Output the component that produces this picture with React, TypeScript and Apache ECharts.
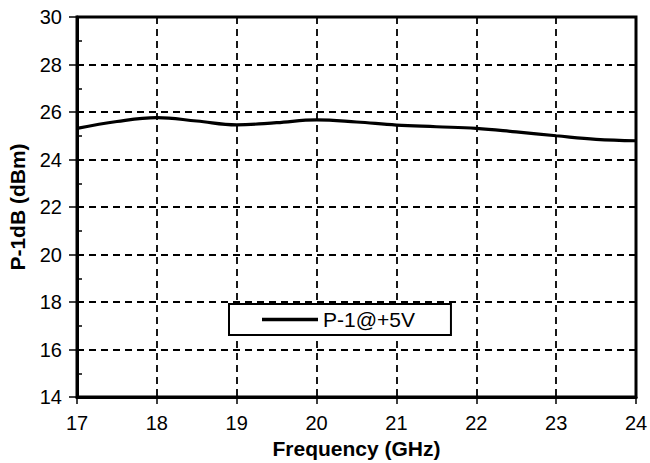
import React, { useEffect, useRef } from "react";
import * as echarts from "echarts";

const freq = [17, 17.5, 18, 18.5, 19, 19.5, 20, 20.5, 21, 21.5, 22, 22.5, 23, 23.5, 24];
const p1db = [25.31, 25.6, 25.76, 25.62, 25.46, 25.55, 25.67, 25.58, 25.45, 25.38, 25.31, 25.16, 25.0, 24.85, 24.79];
const seriesName = "P-1@+5V";
const xTitle = "Frequency (GHz)";
const yTitle = "P-1dB (dBm)";

export default function App() {
  const ref = useRef<HTMLDivElement>(null);
  useEffect(() => {
    document.body.style.margin = "0";
    const chart = echarts.init(ref.current!, null, { renderer: "svg" });
    const font = "Liberation Sans, Arial, sans-serif";
    chart.setOption({
      animation: false,
      backgroundColor: "#fff",
      grid: {
        left: 77, top: 17, width: 559, height: 380,
        outerBoundsMode: "none",
        containLabel: false,
        show: true, borderColor: "#000", borderWidth: 3, backgroundColor: "transparent",
      },
      legend: {
        left: 229, top: 304,
        data: [{ name: seriesName, icon: "rect" }],
        backgroundColor: "#fff",
        borderColor: "#000",
        borderWidth: 2,
        borderRadius: 0,
        padding: [5, 36, 5, 33],
        itemWidth: 56,
        itemHeight: 3.5,
        itemGap: 0,
        itemStyle: { color: "#000", borderWidth: 0 },
        lineStyle: { width: 0 },
        textStyle: { fontFamily: font, fontSize: 21, color: "#000", lineHeight: 21 },
      },
      xAxis: {
        type: "value", min: 17, max: 24, interval: 1,
        name: xTitle, nameLocation: "middle", nameGap: 40,
        nameTextStyle: { fontFamily: font, fontSize: 21, fontWeight: "bold", color: "#000" },
        axisLine: { show: true, lineStyle: { color: "#000", width: 3 } },
        axisTick: { show: true, length: 7, lineStyle: { color: "#000", width: 1.5 } },
        axisLabel: { fontFamily: font, fontSize: 20, color: "#000", margin: 16 },
        splitLine: { show: true, lineStyle: { color: "#000", width: 1.8, type: [7, 5] } },
      },
      yAxis: [
        {
          type: "value", min: 14, max: 30, interval: 2,
          name: yTitle, nameLocation: "middle", nameGap: 49,
          nameTextStyle: { fontFamily: font, fontSize: 21, fontWeight: "bold", color: "#000" },
          axisLine: { show: true, lineStyle: { color: "#000", width: 3 } },
          axisTick: { show: true, length: 8, lineStyle: { color: "#000", width: 1.5 } },
          axisLabel: { fontFamily: font, fontSize: 20, color: "#000", margin: 15 },
          splitLine: { show: true, lineStyle: { color: "#000", width: 1.8, type: [7, 5] } },
        },
        {
          type: "value", min: 14, max: 30, interval: 1, position: "left", offset: 0,
          axisLine: { show: false },
          axisTick: { show: true, inside: true, length: 5, lineStyle: { color: "#000", width: 1.5 } },
          axisLabel: { show: false },
          splitLine: { show: false },
        },
      ],
      series: [
        {
          name: seriesName,
          type: "line",
          data: freq.map((f, i) => [f, p1db[i]]),
          smooth: 0.4,
          symbol: "none",
          lineStyle: { color: "#000", width: 3.2 },
          itemStyle: { color: "#000" },
          z: 5,
        },
      ],
    });
    return () => chart.dispose();
  }, []);
  return <div ref={ref} style={{ position: "fixed", left: 0, top: 0, width: 650, height: 463 }} />;
}
